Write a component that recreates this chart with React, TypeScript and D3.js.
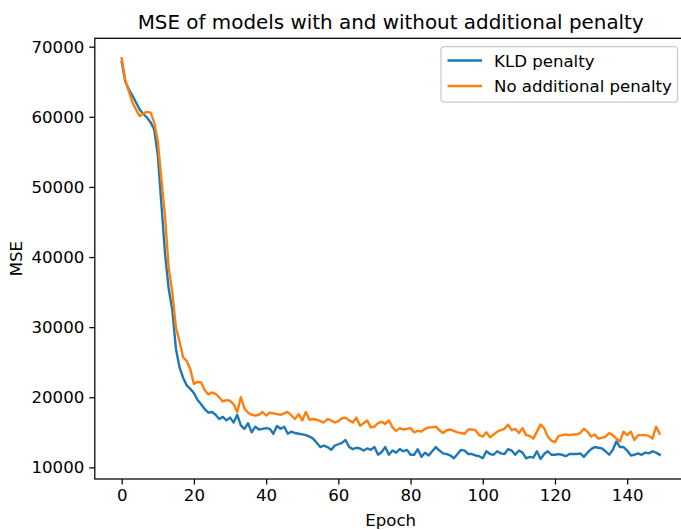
import React, { useEffect, useRef } from "react";
import * as d3 from "d3";

// Per-epoch MSE for the two training runs
const kldPenalty: number[] = [
  67860, 65000, 63900, 63000, 62000, 61000, 60400, 59900, 59200, 58200,
  54500, 47500, 40500, 35500, 32500, 27000, 24300, 22800, 21700, 21200,
  20600, 19600, 19000, 18300, 17800, 17900, 17500, 16900, 17200, 16700,
  17100, 16400, 17500, 16000, 15500, 16300, 15000, 15800, 15400, 15500,
  15600, 15500, 14800, 15900, 15500, 15800, 14800, 15100, 14900, 14800,
  14700, 14600, 14400, 14100, 13500, 12900, 13100, 12900, 12500, 13100,
  13300, 13500, 13900, 12900, 12600, 12800, 12700, 12400, 12700, 12500,
  12900, 11800, 12200, 12900, 11800, 12400, 12100, 12600, 12300, 12500,
  11800, 11800, 12600, 11500, 12100, 11700, 12300, 12900, 12400, 12000,
  11900, 11700, 11300, 11900, 12500, 12400, 11900, 11900, 11700, 11600,
  11300, 12300, 11900, 11800, 12300, 12000, 11900, 12600, 12400, 11800,
  12400, 12100, 11300, 11500, 11400, 12300, 11200, 11900, 12300, 11800,
  11800, 11900, 11800, 11600, 11900, 11900, 11900, 12000, 11500, 12100,
  12600, 12900, 12800, 12700, 12300, 11800, 12500, 13700, 12900, 12900,
  12400, 11700, 11800, 12000, 11800, 12100, 12000, 12300, 12100, 11800,
];

const noPenalty: number[] = [
  68340, 65200, 63600, 62000, 61000, 60100, 60500, 60700, 60600, 59200,
  56500, 51000, 45800, 38500, 35000, 30000, 28000, 25700, 25200, 24000,
  21900, 22200, 22100, 21000, 20400, 20700, 20500, 20000, 19400, 19600,
  19500, 19000, 17900, 20000, 18400, 17800, 17500, 17400, 17500, 17900,
  17400, 17800, 17700, 17600, 17500, 17700, 17900, 17400, 16900, 17600,
  16700, 17900, 16800, 16900, 16800, 16600, 16400, 16900, 16700, 16400,
  16600, 17000, 17100, 16700, 16400, 17100, 15950, 16300, 16700, 15700,
  15800, 16300, 16500, 16200, 16700, 15700, 15200, 15600, 15400, 15500,
  15600, 15000, 15200, 15100, 15500, 15700, 15700, 15800, 15300, 14900,
  15300, 15400, 15200, 15000, 14900, 14800, 15400, 15400, 15300, 14600,
  14400, 15000, 14300, 14700, 15100, 15300, 15500, 16100, 15300, 15500,
  14900, 15600, 14600, 14500, 14100, 15100, 16100, 15600, 14400, 13800,
  13600, 14500, 14600, 14700, 14600, 14700, 14700, 14900, 15500, 15100,
  14400, 14700, 14100, 14200, 14400, 14900, 14600, 14100, 13700, 15100,
  14600, 15100, 13900, 14600, 14600, 14600, 14500, 14100, 15800, 14800,
];

const seriesNames: string[] = ["KLD penalty", "No additional penalty"];
const seriesColors: string[] = ["#1f77b4", "#ff7f0e"];
const xTicks: number[] = [0, 20, 40, 60, 80, 100, 120, 140];
const yTicks: number[] = [10000, 20000, 30000, 40000, 50000, 60000, 70000];

const W = 681;
const H = 530;
const FONT = "DejaVu Sans, sans-serif";
const FS = 16.6;
const TITLE_FS = 19.9;

export default function App() {
  const ref = useRef<SVGSVGElement>(null);

  useEffect(() => {
    const svg = d3.select(ref.current);
    svg.selectAll("*").remove();

    const left = 94.8;
    const right = 686.6;
    const top = 38.3;
    const bottom = 479;

    const n = kldPenalty.length;
    const xMin = 0;
    const xMax = n - 1;
    const xPad = (xMax - xMin) * 0.05;
    const x = d3.scaleLinear().domain([xMin - xPad, xMax + xPad]).range([left, right]);

    const all = kldPenalty.concat(noPenalty);
    const [yMin, yMax] = d3.extent(all) as [number, number];
    const yPad = (yMax - yMin) * 0.05;
    const y = d3.scaleLinear().domain([yMin - yPad, yMax + yPad]).range([bottom, top]);

    svg.append("rect").attr("width", W).attr("height", H).attr("fill", "#fff");

    // series lines
    const line = d3
      .line<number>()
      .x((_, i) => x(i))
      .y((d) => y(d));

    [kldPenalty, noPenalty].forEach((data, k) => {
      svg
        .append("path")
        .datum(data)
        .attr("d", line)
        .attr("fill", "none")
        .attr("stroke", seriesColors[k])
        .attr("stroke-width", 2.4)
        .attr("stroke-linejoin", "round")
        .attr("stroke-linecap", "square");
    });

    // frame
    svg
      .append("rect")
      .attr("x", left)
      .attr("y", top)
      .attr("width", right - left)
      .attr("height", bottom - top)
      .attr("fill", "none")
      .attr("stroke", "#000")
      .attr("stroke-width", 1.25);

    // x axis
    const xAxis = d3
      .axisBottom(x)
      .tickValues(xTicks)
      .tickSize(5.5)
      .tickPadding(5)
      .tickFormat((d) => String(d));
    const gx = svg.append("g").attr("transform", `translate(0,${bottom})`).call(xAxis);
    gx.select(".domain").remove();
    gx.selectAll("line").attr("stroke", "#000").attr("stroke-width", 1.25);
    gx.selectAll("text")
      .attr("font-family", FONT)
      .attr("font-size", FS)
      .attr("fill", "#000");

    // y axis
    const yAxis = d3
      .axisLeft(y)
      .tickValues(yTicks)
      .tickSize(5.5)
      .tickPadding(5)
      .tickFormat((d) => String(d));
    const gy = svg.append("g").attr("transform", `translate(${left},0)`).call(yAxis);
    gy.select(".domain").remove();
    gy.selectAll("line").attr("stroke", "#000").attr("stroke-width", 1.25);
    gy.selectAll("text")
      .attr("font-family", FONT)
      .attr("font-size", FS)
      .attr("fill", "#000");

    // axis labels
    svg
      .append("text")
      .attr("x", (left + right) / 2)
      .attr("y", 526)
      .attr("text-anchor", "middle")
      .attr("font-family", FONT)
      .attr("font-size", FS)
      .text("Epoch");

    svg
      .append("text")
      .attr("transform", `translate(22,${(top + bottom) / 2}) rotate(-90)`)
      .attr("text-anchor", "middle")
      .attr("font-family", FONT)
      .attr("font-size", FS)
      .text("MSE");

    // title
    svg
      .append("text")
      .attr("x", (left + right) / 2)
      .attr("y", 29)
      .attr("text-anchor", "middle")
      .attr("font-family", FONT)
      .attr("font-size", TITLE_FS)
      .text("MSE of models with and without additional penalty");

    // legend
    const lgX = 441;
    const lgY = 46.5;
    const lgW = 236.5;
    const lgH = 55.5;
    const lg = svg.append("g");
    lg.append("rect")
      .attr("x", lgX)
      .attr("y", lgY)
      .attr("width", lgW)
      .attr("height", lgH)
      .attr("rx", 3)
      .attr("fill", "#fff")
      .attr("fill-opacity", 0.8)
      .attr("stroke", "#cccccc")
      .attr("stroke-width", 1.25);

    seriesNames.forEach((name, k) => {
      const cy = lgY + 14 + k * 25.5;
      lg.append("line")
        .attr("x1", lgX + 6.5)
        .attr("x2", lgX + 41)
        .attr("y1", cy)
        .attr("y2", cy)
        .attr("stroke", seriesColors[k])
        .attr("stroke-width", 2.4);
      lg.append("text")
        .attr("x", lgX + 53)
        .attr("y", cy + 6)
        .attr("font-family", FONT)
        .attr("font-size", FS)
        .attr("fill", "#000")
        .text(name);
    });
  }, []);

  return (
    <svg
      ref={ref}
      width={W}
      height={H}
      style={{ position: "fixed", left: 0, top: 0, display: "block" }}
    />
  );
}
